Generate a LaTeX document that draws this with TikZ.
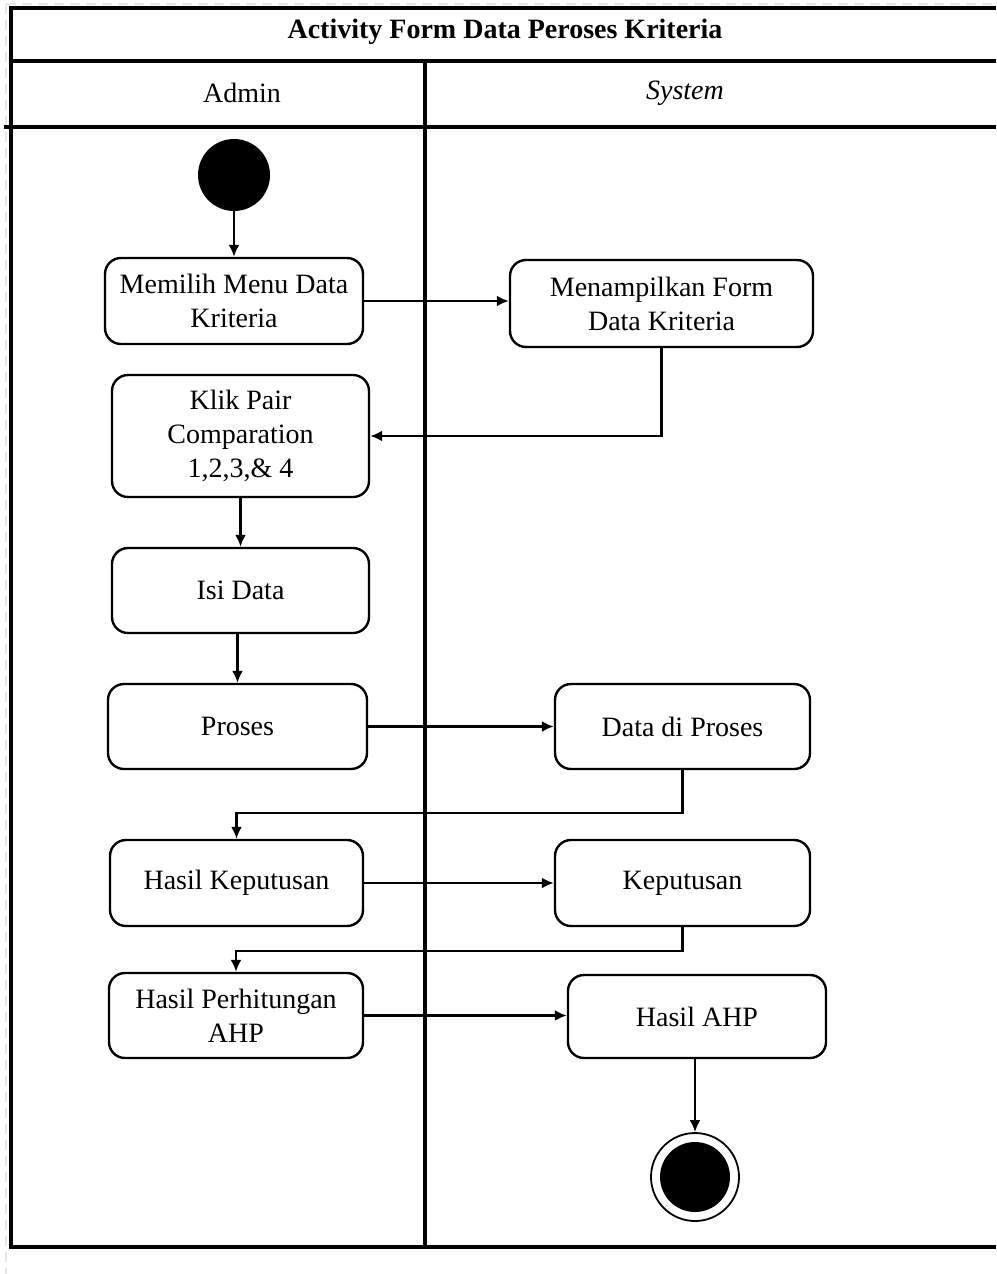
\documentclass[tikz,border=0pt]{standalone}
\usepackage{fontspec}
\setmainfont{Liberation Serif}
\usetikzlibrary{arrows.meta}
\begin{document}
\begin{tikzpicture}[x=1pt,y=-1pt,
  font=\fontsize{28}{34}\selectfont,
  act/.style={draw, line width=2.4pt, rounded corners=16pt, align=center,
              inner sep=0pt, fill=white},
  flow/.style={line width=2.4pt, -{Latex[length=12pt,width=11pt]}},
  frame/.style={line width=3.2pt},
  ghost/.style={line width=2.5pt, draw=black!10, dash pattern=on 10pt off 6pt}]
\useasboundingbox (0,0) rectangle (996,1274);
\fill[white] (0,0) rectangle (996,1274);

% faint scan border
\draw[ghost] (6,4) -- (996,4);
\draw[ghost] (6,4) -- (6,1274);

% swimlane frame
\draw[frame] (996,8) -- (11,8) -- (11,1247) -- (996,1247);
\draw[frame] (11,61) -- (996,61);
\draw[frame] (4,127) -- (996,127);
\draw[frame] (425,61) -- (425,1247);

\node[font=\fontsize{28}{34}\selectfont\bfseries] (title) at (505,32) {Activity Form Data Peroses Kriteria};
\node (laneA) at (242,93) {Admin};
\node[font=\fontsize{28}{34}\selectfont\itshape] (laneS) at (685,93) {System};

% start / end
\node[circle, fill=black, minimum size=72pt, inner sep=0pt] (start) at (234,175) {};
\node[circle, draw, line width=1.8pt, minimum size=88pt, inner sep=0pt] (end) at (695,1177) {};
\node[circle, fill=black, minimum size=70pt, inner sep=0pt] (endin) at (695,1177) {};

% activities
\node[act, minimum width=258pt, minimum height=86pt] (m1) at (234,301) {Memilih Menu Data\\Kriteria};
\node[act, minimum width=303pt, minimum height=87pt] (s1) at (661.5,303.5) {Menampilkan Form\\Data Kriteria};
\node[act, minimum width=257pt, minimum height=122pt] (m2) at (240.5,436) {Klik Pair\\Comparation\\1,2,3,\& 4};
\node[act, minimum width=257pt, minimum height=85pt] (m3) at (240.5,590.5) {Isi Data};
\node[act, minimum width=259pt, minimum height=85pt] (m4) at (237.5,726.5) {Proses};
\node[act, minimum width=255pt, minimum height=85pt] (s2) at (682.5,726.5) {Data di Proses};
\node[act, minimum width=253pt, minimum height=86pt] (m5) at (236.5,883) {Hasil Keputusan};
\node[act, minimum width=255pt, minimum height=86pt] (s3) at (682.5,883) {Keputusan};
\node[act, minimum width=254pt, minimum height=85pt] (m6) at (236,1015.5) {Hasil Perhitungan\\AHP};
\node[act, minimum width=258pt, minimum height=83pt] (s4) at (697,1016.5) {Hasil AHP};

% flow
\draw[flow] (start) -- (m1.north -| start);
\draw[flow] (m1.east) -- (m1.east -| s1.west);
\draw[flow] (s1.south) |- (m2.east);
\draw[flow] (m2) -- (m3);
\draw[flow] (m3.south -| m4.north) -- (m4.north);
\draw[flow] (m4.east) -- (s2.west);
\draw[flow] (s2.south) -- ++(0,43) -| (m5.north);
\draw[flow] (m5.east) -- (s3.west);
\draw[flow] (s3.south) -- ++(0,24) -| (m6.north);
\draw[flow] (m6.east) -- (m6.east -| s4.west);
\draw[flow] (s4.south -| end) -- (end.north);
\end{tikzpicture}
\end{document}
